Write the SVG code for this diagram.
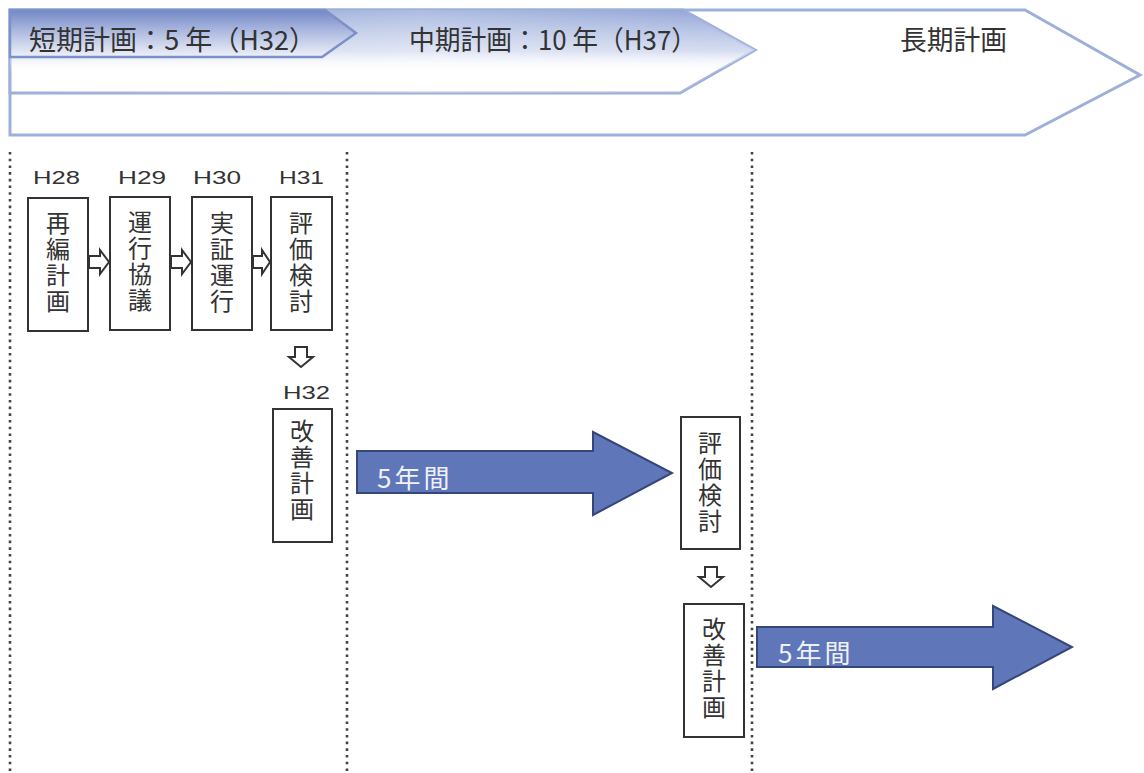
<svg xmlns="http://www.w3.org/2000/svg" width="1144" height="773" viewBox="0 0 1144 773">
<defs>
<linearGradient id="gMidV" x1="0" y1="0" x2="0" y2="1">
<stop offset="0" stop-color="#8a9ed4" stop-opacity="1"/>
<stop offset="0.5" stop-color="#c9d3ec" stop-opacity="0.8"/>
<stop offset="0.75" stop-color="#ffffff" stop-opacity="0"/>
</linearGradient>
<linearGradient id="gMidH" x1="0" y1="0" x2="1" y2="0">
<stop offset="0" stop-color="#ffffff" stop-opacity="0"/>
<stop offset="0.55" stop-color="#ffffff" stop-opacity="0.3"/>
<stop offset="1" stop-color="#ffffff" stop-opacity="0.05"/>
</linearGradient>
<linearGradient id="gShort" x1="0" y1="0" x2="0" y2="1">
<stop offset="0" stop-color="#7287c6"/>
<stop offset="0.5" stop-color="#b3bfe2"/>
<stop offset="1" stop-color="#eef1f8"/>
</linearGradient>
<style>
.band{fill:#ffffff;stroke:#9fb0d8;stroke-width:3;stroke-linejoin:miter}
.ttl{font-family:"Noto Sans CJK JP","Noto Sans CJK SC",sans-serif;font-size:27px;fill:#333333}
.yr{font-family:"Liberation Sans","Noto Sans CJK JP",sans-serif;font-size:19px;fill:#333333}
.box{fill:#ffffff;stroke:#333333;stroke-width:2}
.vt{font-family:"Noto Sans CJK JP",sans-serif;font-size:24px;fill:#333333;writing-mode:vertical-rl;letter-spacing:2px}
.small{fill:#ffffff;stroke:#333333;stroke-width:2;stroke-linejoin:miter}
.big{fill:#5f76b9;stroke:#34467a;stroke-width:2;stroke-linejoin:miter}
.bigt{font-family:"Noto Sans CJK JP",sans-serif;font-size:26px;fill:#eef1f8;letter-spacing:3px}
.dot{stroke:#444444;stroke-width:2.6;stroke-dasharray:2.6 4.1;fill:none}
</style>
</defs>
<rect width="1144" height="773" fill="#ffffff"/>

<g id="banner-long">
<polygon class="band" points="10,10 1025,10 1140,75 1025,135 10,135"/>
<text class="ttl" x="900" y="50" textLength="107" lengthAdjust="spacingAndGlyphs">長期計画</text>
</g>
<g id="banner-mid">
<polygon class="band" points="10,10 683,10 755,50 680,93 10,93"/>
<polygon points="10,10 683,10 755,50 680,93 10,93" fill="url(#gMidV)"/>
<polygon points="10,10 683,10 755,50 680,93 10,93" fill="url(#gMidH)"/>
<text class="ttl" x="409" y="50" textLength="288" lengthAdjust="spacingAndGlyphs">中期計画：10 年（H37）</text>
</g>
<g id="banner-short">
<polygon points="10,10 325,10 356,33 322,57 10,57" fill="url(#gShort)" stroke="#7d91c9" stroke-width="2.5"/>
<text class="ttl" x="29" y="50" textLength="287" lengthAdjust="spacingAndGlyphs">短期計画：5 年（H32）</text>
</g>

<g id="dividers">
<line class="dot" x1="10" y1="152" x2="10" y2="773"/>
<line class="dot" x1="347" y1="152" x2="347" y2="773"/>
<line class="dot" x1="752" y1="152" x2="752" y2="773"/>
</g>

<g id="n-h28">
<text class="yr" x="33" y="184" textLength="47" lengthAdjust="spacingAndGlyphs">H28</text>
<rect class="box" x="28" y="198" width="60" height="133"/>
<text class="vt" x="58" y="211">再編計画</text>
</g>
<g id="n-h29">
<text class="yr" x="118" y="184" textLength="48" lengthAdjust="spacingAndGlyphs">H29</text>
<rect class="box" x="110" y="197" width="60" height="133"/>
<text class="vt" x="140" y="210">運行協議</text>
</g>
<g id="n-h30">
<text class="yr" x="193" y="184" textLength="48" lengthAdjust="spacingAndGlyphs">H30</text>
<rect class="box" x="192" y="197" width="60" height="133"/>
<text class="vt" x="222" y="211">実証運行</text>
</g>
<g id="n-h31">
<text class="yr" x="279" y="184" textLength="45" lengthAdjust="spacingAndGlyphs">H31</text>
<rect class="box" x="271" y="197" width="61" height="133"/>
<text class="vt" x="301" y="211">評価検討</text>
</g>
<g id="n-h32">
<text class="yr" x="283" y="399" textLength="47" lengthAdjust="spacingAndGlyphs">H32</text>
<rect class="box" x="273" y="409" width="59" height="133"/>
<text class="vt" x="302" y="419">改善計画</text>
</g>
<g id="n-eval2">
<rect class="box" x="681" y="417" width="59" height="132"/>
<text class="vt" x="710" y="431">評価検討</text>
</g>
<g id="n-improve2">
<rect class="box" x="684" y="604" width="60" height="133"/>
<text class="vt" x="714" y="617">改善計画</text>
</g>

<g id="connectors">
<polygon class="small" points="89,256 100,256 100,250 109,262 100,274 100,268 89,268"/>
<polygon class="small" points="171,256 182,256 182,250 191,262 182,274 182,268 171,268"/>
<polygon class="small" points="253,256 262,256 262,250 270,262 262,274 262,268 253,268"/>
<polygon class="small" points="295,347 307,347 307,357 313,357 301,367 289,357 295,357"/>
<polygon class="small" points="705,567 717,567 717,577 723,577 711,587 699,577 705,577"/>
<polygon class="big" points="357,451 593,451 593,432 672,473 593,515 593,493 357,493"/>
<text class="bigt" x="377" y="488">5年間</text>
<polygon class="big" points="757,627 993,627 993,606 1072,647 993,689 993,667 757,667"/>
<text class="bigt" x="778" y="663">5年間</text>
</g>
</svg>
